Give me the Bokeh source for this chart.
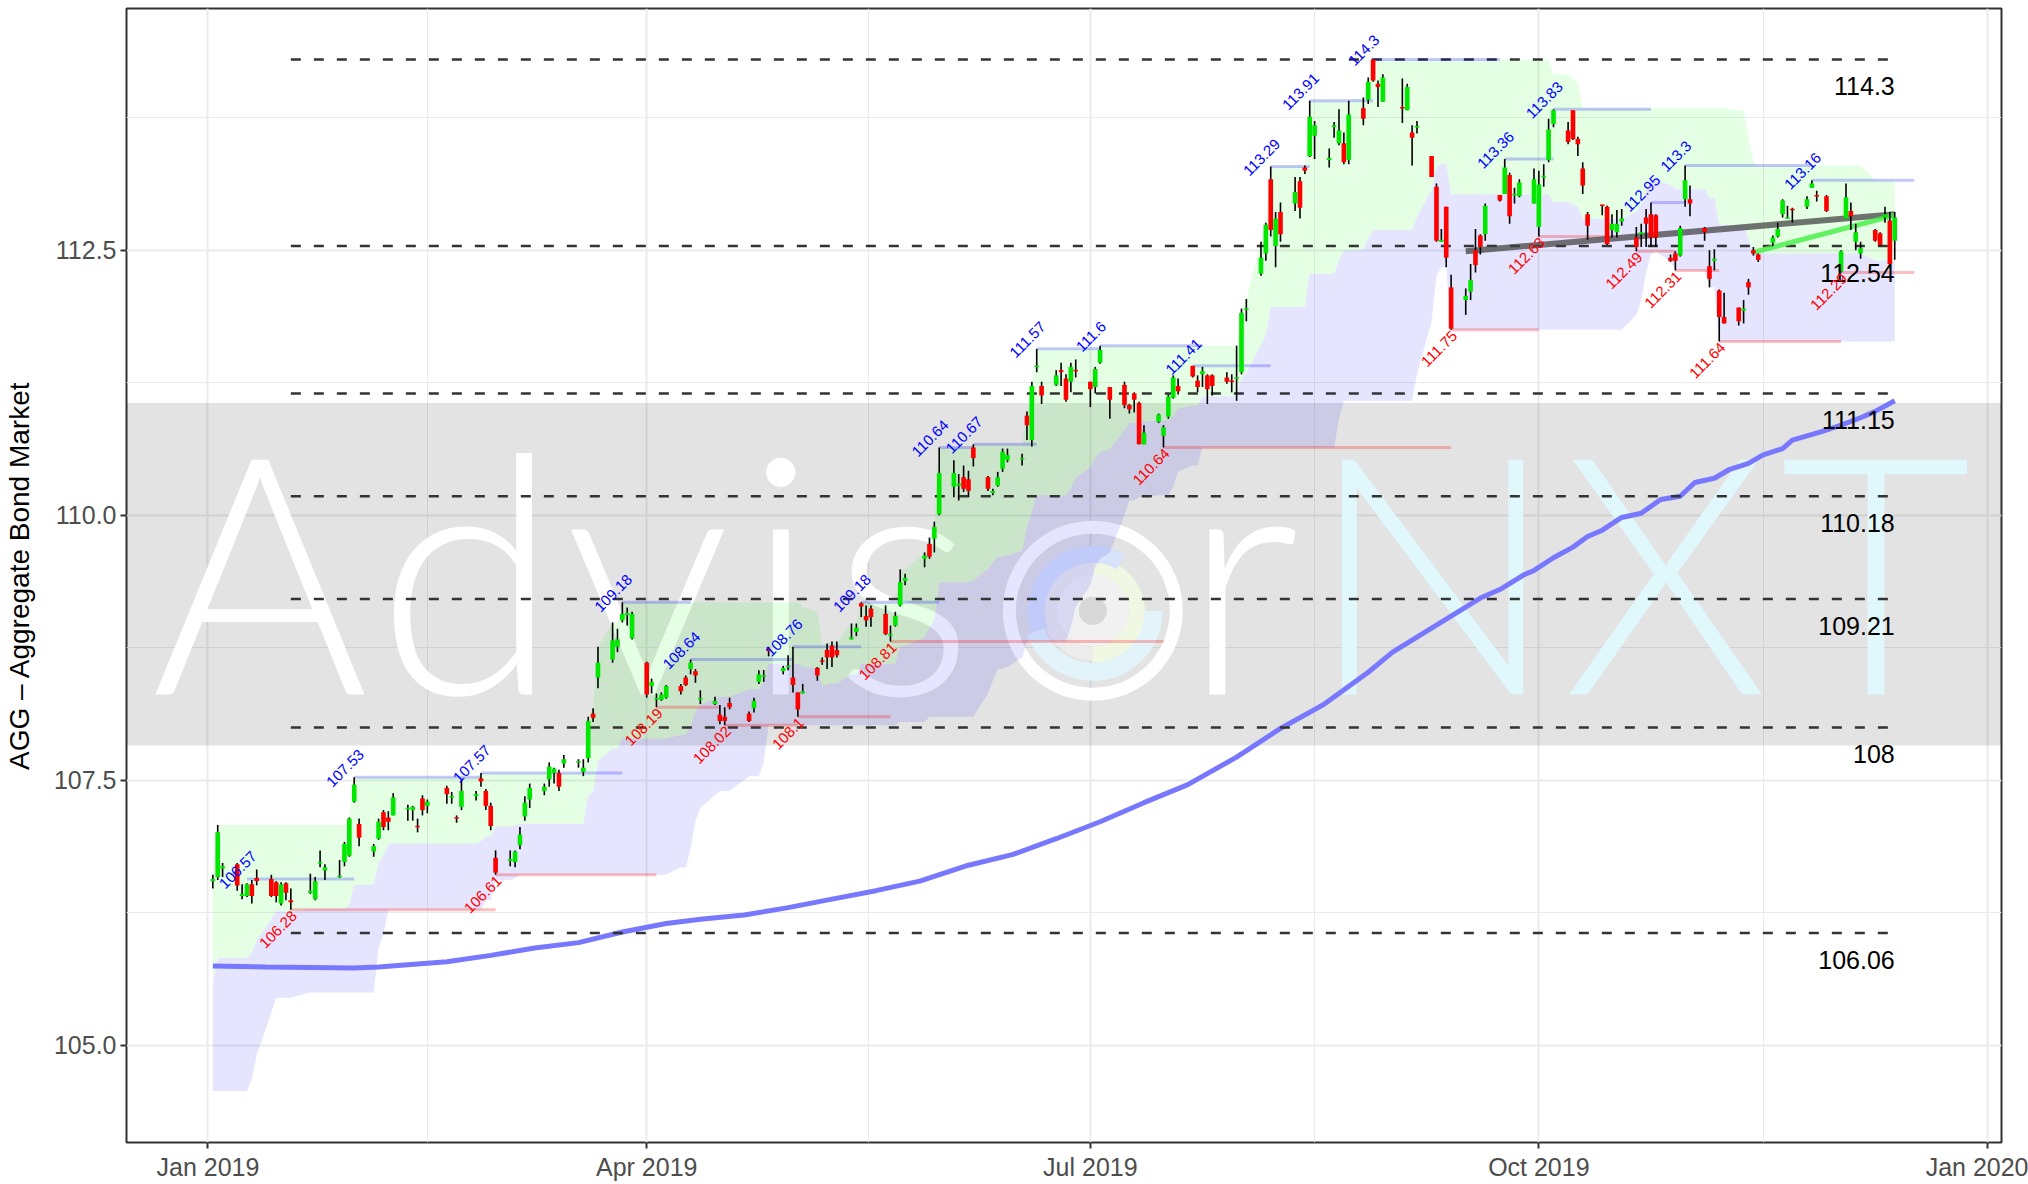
import pandas as pd
import numpy as np
from bokeh.plotting import figure
from bokeh.models import Range1d, FixedTicker, DatetimeTickFormatter, NumeralTickFormatter
from bokeh.core.properties import value
from bokeh.embed import file_html
from bokeh.resources import INLINE

# ---------------- data ----------------
holidays = ["2019-01-21", "2019-02-18", "2019-04-19", "2019-05-27",
            "2019-07-04", "2019-09-02", "2019-11-28"]

# (open, high, low, close) per trading day
ohlc_jan = [(106.55,106.61,106.48,106.57),(106.59,107.08,106.56,107.01),(106.67,106.72,106.59,106.69),
            (106.71,106.72,106.46,106.51),(106.41,106.52,106.38,106.43),(106.41,106.53,106.40,106.52),
            (106.52,106.56,106.34,106.41),(106.58,106.66,106.51,106.55),(106.57,106.61,106.40,106.41),
            (106.54,106.55,106.35,106.41),(106.34,106.54,106.32,106.52),(106.53,106.54,106.37,106.44),
            (106.37,106.48,106.28,106.35),(106.44,106.62,106.43,106.46),(106.38,106.59,106.37,106.55),
            (106.72,106.84,106.68,106.73),(106.65,106.71,106.56,106.68),(106.59,106.75,106.58,106.60),
            (106.73,106.92,106.69,106.90),(106.79,107.15,106.78,107.14),(107.30,107.53,107.29,107.46)]
ohlc_feb = [(107.09,107.14,106.88,106.96),(106.83,106.90,106.78,106.88),(106.95,107.14,106.94,107.11),
            (107.20,107.22,107.03,107.06),(107.15,107.21,107.03,107.11),(107.17,107.38,107.17,107.34),
            (107.23,107.27,107.12,107.24),(107.22,107.26,107.12,107.25),(107.07,107.14,107.01,107.06),
            (107.33,107.36,107.17,107.22),(107.26,107.32,107.19,107.30),(107.43,107.45,107.28,107.37),
            (107.34,107.39,107.28,107.35),(107.15,107.17,107.10,107.14),(107.25,107.51,107.22,107.40),
            (107.35,107.40,107.31,107.37),(107.52,107.57,107.44,107.49),(107.40,107.42,107.22,107.26),
            (107.26,107.29,107.03,107.07)]
ohlc_mar = [(106.77,106.84,106.61,106.63),(106.74,106.84,106.69,106.76),(106.73,106.84,106.68,106.83),
            (106.89,107.06,106.85,106.99),(107.16,107.35,107.12,107.29),(107.32,107.47,107.24,107.43),
            (107.40,107.47,107.36,107.44),(107.51,107.67,107.44,107.63),(107.57,107.62,107.47,107.61),
            (107.57,107.60,107.40,107.44),(107.66,107.74,107.62,107.70),(107.67,107.70,107.62,107.68),
            (107.58,107.70,107.54,107.62),(107.71,108.10,107.67,108.06),(108.13,108.18,108.05,108.09),
            (108.47,108.76,108.37,108.61),(108.64,108.99,108.61,108.82),(108.76,108.93,108.71,108.83),
            (109.01,109.18,108.99,109.07),(109.06,109.13,108.96,109.08),(108.84,109.09,108.83,109.07)]
ohlc_apr = [(108.61,108.62,108.28,108.31),(108.39,108.46,108.32,108.43),(108.27,108.32,108.19,108.27),
            (108.26,108.33,108.25,108.31),(108.28,108.40,108.27,108.39),(108.39,108.41,108.31,108.34),
            (108.47,108.49,108.39,108.40),(108.55,108.64,108.50,108.61),(108.53,108.55,108.42,108.49),
            (108.27,108.35,108.22,108.27),(108.22,108.29,108.21,108.25),(108.12,108.21,108.03,108.06),
            (108.10,108.19,108.02,108.06),(108.23,108.28,108.17,108.19),(108.13,108.15,108.05,108.06),
            (108.18,108.28,108.14,108.25),(108.43,108.54,108.41,108.50),(108.48,108.54,108.43,108.49),
            (108.74,108.76,108.67,108.72),(108.53,108.58,108.50,108.56),(108.57,108.68,108.54,108.58)]
ohlc_may = [(108.47,108.76,108.33,108.40),(108.33,108.33,108.10,108.17),(108.32,108.41,108.32,108.34),
            (108.56,108.57,108.44,108.49),(108.63,108.66,108.59,108.62),(108.73,108.79,108.55,108.66),
            (108.77,108.81,108.57,108.66),(108.73,108.81,108.66,108.68),(108.83,108.98,108.83,108.85),
            (108.90,108.98,108.86,108.94),(109.17,109.18,109.04,109.14),(109.05,109.15,108.95,109.01),
            (109.12,109.15,108.95,109.04),(109.07,109.15,108.87,108.88),(108.87,108.96,108.81,108.88),
            (108.96,109.09,108.95,109.05),(109.15,109.49,109.14,109.37),(109.38,109.45,109.34,109.41),
            (109.59,109.65,109.51,109.62),(109.73,109.79,109.59,109.61),(109.78,109.94,109.65,109.89),
            (110.01,110.64,110.00,110.40)]
ohlc_jun = [(110.27,110.52,110.17,110.40),(110.28,110.39,110.14,110.30),(110.36,110.47,110.22,110.25),
            (110.34,110.42,110.17,110.23),(110.64,110.67,110.46,110.54),(110.36,110.37,110.23,110.25),
            (110.21,110.25,110.19,110.23),(110.28,110.41,110.27,110.36),(110.44,110.63,110.41,110.60),
            (110.52,110.63,110.50,110.57),(110.53,110.58,110.47,110.54),(110.94,110.98,110.71,110.85),
            (110.71,111.26,110.65,111.22),(111.40,111.57,111.35,111.41),(111.22,111.26,111.05,111.13),
            (111.23,111.37,111.22,111.32),(111.37,111.44,111.22,111.35),(111.29,111.33,111.07,111.09),
            (111.26,111.44,111.16,111.40),(111.37,111.47,111.30,111.36)]
ohlc_jul = [(111.26,111.26,111.02,111.19),(111.21,111.40,111.15,111.38),(111.44,111.60,111.43,111.56),
            (111.21,111.21,110.91,111.09),(111.23,111.26,111.01,111.04),(111.04,111.05,110.96,111.00),
            (111.15,111.16,110.97,111.09),(111.06,111.07,110.67,110.67),(110.67,110.85,110.67,110.78),
            (110.88,110.96,110.87,110.95),(110.75,110.85,110.64,110.83),(110.93,111.14,110.91,111.12),
            (111.11,111.32,111.10,111.30),(111.22,111.29,111.14,111.17),(111.41,111.41,111.30,111.31),
            (111.27,111.32,111.16,111.21),(111.33,111.40,111.21,111.36),(111.32,111.33,111.05,111.19),
            (111.32,111.33,111.13,111.22),(111.30,111.35,111.24,111.26),(111.27,111.33,111.16,111.26),
            (111.29,111.60,111.08,111.30)]
ohlc_aug = [(111.35,111.95,111.33,111.91),(111.94,112.04,111.83,111.95),(112.28,112.58,112.26,112.43),
            (112.47,112.76,112.40,112.74),(113.17,113.29,112.63,112.69),(112.54,112.86,112.34,112.80),
            (112.86,112.95,112.58,112.65),(112.94,113.19,112.87,113.05),(113.15,113.19,112.80,112.90),
            (113.28,113.30,113.22,113.25),(113.39,113.91,113.38,113.76),(113.58,113.72,113.36,113.68),
            (113.35,113.46,113.28,113.37),(113.66,113.71,113.56,113.68),(113.51,113.83,113.49,113.63),
            (113.51,113.61,113.31,113.33),(113.35,113.91,113.31,113.78),(113.84,113.94,113.68,113.74),
            (113.92,114.13,113.88,114.09),(114.30,114.30,114.09,114.10),(114.07,114.10,113.85,114.04),
            (113.90,114.16,113.90,114.13)]
ohlc_sep = [(113.85,114.12,113.70,113.84),(113.82,114.07,113.82,114.04),(113.61,113.68,113.30,113.56),
            (113.66,113.72,113.60,113.67),(113.39,113.39,113.19,113.19),(113.10,113.13,112.58,112.59),
            (112.58,112.70,112.58,112.60),(112.91,112.91,112.34,112.43),(112.15,112.27,111.75,111.76),
            (112.03,112.14,111.89,112.07),(112.11,112.37,112.03,112.22),(112.50,112.70,112.29,112.36),
            (112.64,112.65,112.46,112.53),(112.65,112.94,112.59,112.92),(113.02,113.02,112.96,112.97),
            (113.03,113.36,113.03,113.28),(113.21,113.23,112.75,112.82),(113.02,113.09,112.94,113.03),
            (113.01,113.17,113.00,113.14),(112.94,113.27,112.94,113.17)]
ohlc_oct = [(112.72,113.25,112.63,113.12),(113.19,113.31,113.10,113.20),(113.35,113.74,113.33,113.64),
            (113.69,113.83,113.66,113.82),(113.63,113.71,113.50,113.52),(113.82,113.82,113.54,113.55),
            (113.55,113.57,113.39,113.50),(113.27,113.33,113.03,113.11),(112.84,112.86,112.60,112.73),
            (112.93,112.93,112.83,112.92),(112.91,112.92,112.55,112.56),(112.69,112.84,112.62,112.75),
            (112.67,112.88,112.62,112.75),(112.77,112.89,112.73,112.80),(112.62,112.72,112.49,112.53),
            (112.65,112.75,112.53,112.67),(112.81,112.89,112.53,112.75),(112.84,112.95,112.53,112.62),
            (112.83,112.84,112.53,112.62),(112.43,112.46,112.39,112.40),(112.47,112.49,112.31,112.40),
            (112.45,112.73,112.44,112.71),(112.98,113.30,112.91,113.16)]
ohlc_nov = [(112.98,113.11,112.82,112.94),(112.71,112.72,112.59,112.67),(112.35,112.50,112.15,112.23),
            (112.40,112.51,112.31,112.42),(112.12,112.13,111.64,111.87),(111.87,112.10,111.81,111.81),
            (111.96,111.96,111.79,111.83),(111.93,112.03,111.81,111.95),(112.20,112.23,112.08,112.15),
            (112.50,112.53,112.45,112.47),(112.46,112.47,112.39,112.41),(112.57,112.64,112.54,112.62),
            (112.63,112.76,112.62,112.70),(112.84,112.98,112.81,112.97),(112.80,112.92,112.80,112.81),
            (112.89,112.90,112.76,112.88),(112.91,113.01,112.89,112.98),(113.09,113.16,113.09,113.13),
            (113.02,113.06,112.96,113.01),(113.01,113.02,112.86,112.87)]
ohlc_dec = [(112.30,112.50,112.29,112.49),(112.80,113.13,112.80,113.00),(112.87,112.95,112.69,112.82),
            (112.58,112.75,112.50,112.67),(112.47,112.58,112.42,112.52),(112.69,112.70,112.58,112.59),
            (112.66,112.67,112.54,112.55),(112.81,112.91,112.76,112.84),(112.78,112.86,112.34,112.37),
            (112.59,112.86,112.41,112.81)]

# 26-day channel: breakpoints (date, value), value held until next breakpoint
upper_dates = ["2019-01-02","2019-01-03","2019-01-30","2019-01-31","2019-02-26","2019-03-20","2019-03-21",
               "2019-03-22","2019-03-25","2019-03-27","2019-05-03","2019-05-06","2019-05-07","2019-05-08",
               "2019-05-09","2019-05-13","2019-05-15","2019-05-23","2019-05-28","2019-05-29","2019-05-30",
               "2019-05-31","2019-06-07","2019-06-18","2019-06-19","2019-06-20","2019-07-03","2019-08-01",
               "2019-08-02","2019-08-05","2019-08-06","2019-08-07","2019-08-14","2019-08-15","2019-08-26",
               "2019-08-27","2019-08-28","2019-10-04","2019-10-08","2019-10-09","2019-10-10","2019-11-11",
               "2019-11-13","2019-11-14","2019-11-15","2019-12-09"]
upper_vals = [106.61,107.08,107.15,107.53,107.57,108.10,108.18,108.76,108.99,109.18,109.13,109.09,108.76,
              108.79,108.81,108.98,109.18,109.49,109.65,109.79,109.94,110.64,110.67,110.98,111.26,111.57,
              111.60,111.95,112.04,112.58,112.76,113.29,113.30,113.91,113.94,114.13,114.30,114.16,114.12,
              114.07,113.84,113.82,113.57,113.33,113.30,113.16]
lower_dates = ["2019-01-02","2019-01-10","2019-01-11","2019-01-14","2019-01-15","2019-01-22","2019-02-05",
               "2019-02-06","2019-02-07","2019-02-27","2019-03-01","2019-03-05","2019-03-06","2019-04-08",
               "2019-04-10","2019-04-11","2019-04-12","2019-04-15","2019-04-16","2019-04-22","2019-04-25",
               "2019-04-26","2019-05-23","2019-05-29","2019-06-10","2019-06-11","2019-06-12","2019-06-14",
               "2019-06-17","2019-06-18","2019-06-27","2019-06-28","2019-07-01","2019-07-02","2019-07-03",
               "2019-07-05","2019-07-08","2019-07-09","2019-07-11","2019-07-15","2019-07-18","2019-07-19",
               "2019-07-22","2019-07-24","2019-08-21","2019-08-22","2019-09-06","2019-09-09","2019-09-10",
               "2019-09-11","2019-09-13","2019-10-21","2019-10-22","2019-10-23","2019-10-24","2019-10-25",
               "2019-10-28","2019-10-29","2019-11-05","2019-11-07"]
lower_vals = [104.57,104.68,104.91,105.31,105.45,105.50,105.92,106.05,106.28,106.37,106.56,106.58,106.61,
              106.68,106.85,107.12,107.24,107.36,107.40,107.54,107.67,108.02,108.05,108.10,108.32,108.44,
              108.55,108.57,108.66,108.81,108.95,109.14,109.34,109.51,109.59,109.65,110.00,110.14,110.17,
              110.19,110.27,110.41,110.47,110.64,110.91,111.08,111.33,111.83,112.26,112.34,111.75,111.89,
              112.03,112.29,112.46,112.49,112.39,112.31,112.15,111.64]

# moving average (blue line)
ma_dates = ["2019-01-02","2019-01-13","2019-01-31","2019-02-05","2019-02-19","2019-02-28","2019-03-09",
            "2019-03-18","2019-03-27","2019-04-05","2019-04-12","2019-04-21","2019-04-30","2019-05-09",
            "2019-05-18","2019-05-27","2019-06-06","2019-06-15","2019-06-24","2019-07-03","2019-07-12",
            "2019-07-21","2019-07-31","2019-08-09","2019-08-18","2019-08-27","2019-09-01","2019-09-19",
            "2019-09-23","2019-09-28","2019-09-30","2019-10-04","2019-10-08","2019-10-11","2019-10-14",
            "2019-10-18","2019-10-22","2019-10-26","2019-10-30","2019-11-02","2019-11-06","2019-11-09",
            "2019-11-13","2019-11-16","2019-11-20","2019-11-22","2019-11-28","2019-12-02","2019-12-06",
            "2019-12-09","2019-12-13"]
ma_vals = [105.75,105.74,105.73,105.74,105.79,105.85,105.92,105.97,106.07,106.15,106.19,106.23,106.30,
           106.38,106.46,106.55,106.70,106.80,106.95,107.11,107.29,107.46,107.72,107.99,108.22,108.52,
           108.71,109.22,109.30,109.44,109.48,109.60,109.70,109.80,109.86,109.98,110.02,110.15,110.18,
           110.31,110.35,110.43,110.49,110.57,110.63,110.71,110.79,110.85,110.92,110.98,111.08]

levels = [114.3, 112.54, 111.15, 110.18, 109.21, 108.0, 106.06]
level_labels = ["114.3", "112.54", "111.15", "110.18", "109.21", "108", "106.06"]
level_start, level_end = "2019-01-18", "2019-12-13"

band_low, band_high = 107.83, 111.06

high_dates = ["2019-01-09","2019-01-31","2019-02-26","2019-03-27","2019-04-10","2019-05-01","2019-05-15",
              "2019-05-31","2019-06-07","2019-06-20","2019-07-03","2019-07-22","2019-08-07","2019-08-15",
              "2019-08-28","2019-09-24","2019-10-04","2019-10-24","2019-10-31","2019-11-26"]
high_vals = [106.57,107.53,107.57,109.18,108.64,108.76,109.18,110.64,110.67,111.57,111.6,111.41,113.29,
             113.91,114.3,113.36,113.83,112.95,113.3,113.16]
high_ends = ["2019-01-31","2019-02-26","2019-03-27","2019-04-10","2019-05-01","2019-05-15","2019-05-31",
             "2019-06-07","2019-06-20","2019-07-03","2019-07-24","2019-08-07","2019-08-15","2019-08-28",
             "2019-09-23","2019-10-04","2019-10-24","2019-10-31","2019-11-26","2019-12-17"]
low_dates = ["2019-01-18","2019-03-01","2019-04-03","2019-04-17","2019-05-02","2019-05-21","2019-07-16",
             "2019-09-13","2019-10-01","2019-10-21","2019-10-29","2019-11-07","2019-12-02"]
low_vals = [106.28,106.61,108.19,108.02,108.1,108.81,110.64,111.75,112.63,112.49,112.31,111.64,112.29]
low_ends = ["2019-03-01","2019-04-03","2019-04-16","2019-05-02","2019-05-21","2019-07-16","2019-09-13",
            "2019-10-01","2019-10-15","2019-10-29","2019-11-07","2019-12-02","2019-12-17"]

trend_dark = (["2019-09-16", "2019-12-13"], [112.49, 112.84])
trend_green = (["2019-11-14", "2019-12-13"], [112.48, 112.83])

# ---------------- build ----------------
DAY = 86400000.0
EPOCH = pd.Timestamp("1970-01-01")
def ms(t):
    return (pd.Timestamp(t) - EPOCH).total_seconds() * 1000.0
T0 = ms("2019-01-01")

ohlc = ohlc_jan + ohlc_feb + ohlc_mar + ohlc_apr + ohlc_may + ohlc_jun + ohlc_jul + ohlc_aug + ohlc_sep + ohlc_oct + ohlc_nov + ohlc_dec
bd = pd.bdate_range("2019-01-02", "2019-12-13")
bd = bd[~bd.isin(pd.to_datetime(holidays))]
n = min(len(bd), len(ohlc))
tdates = bd[:n]
o = np.array([r[0] for r in ohlc[:n]]); h = np.array([r[1] for r in ohlc[:n]])
l = np.array([r[2] for r in ohlc[:n]]); c = np.array([r[3] for r in ohlc[:n]])
top = np.maximum(o, c); bot = np.minimum(o, c)
small = (top - bot) < 0.014
mid_b = (top + bot) / 2
top = np.where(small, mid_b + 0.007, top); bot = np.where(small, mid_b - 0.007, bot)
up_mask = c >= o

up_s = pd.Series(upper_vals, index=pd.to_datetime(upper_dates)).reindex(tdates, method="ffill")
lo_s = pd.Series(lower_vals, index=pd.to_datetime(lower_dates)).reindex(tdates, method="ffill")
md_s = (up_s + lo_s) / 2

FONT = "Liberation Sans"
x0 = T0 - 16.71 * DAY
x1 = T0 + 367.9 * DAY

p = figure(width=2028, height=1184, x_axis_type="datetime", output_backend="svg", toolbar_location=None,
           x_range=Range1d(x0, x1), y_range=Range1d(104.085, 114.78),
           min_border_left=126, min_border_right=27, min_border_top=8, min_border_bottom=42)
p.background_fill_color = "white"
p.border_fill_color = "white"
p.outline_line_color = "#333333"
p.outline_line_width = 2

xt = FixedTicker(ticks=[ms("2019-01-01"), ms("2019-04-01"), ms("2019-07-01"), ms("2019-10-01"), ms("2020-01-01")],
                 minor_ticks=[ms("2019-02-15"), ms("2019-05-16 12:00"), ms("2019-08-16"), ms("2019-11-16")])
yt = FixedTicker(ticks=[105, 107.5, 110, 112.5], minor_ticks=[106.25, 108.75, 111.25, 113.75])
p.xaxis.ticker = xt; p.xgrid.ticker = xt
p.yaxis.ticker = yt; p.ygrid.ticker = yt
for g in (p.xgrid, p.ygrid):
    g.grid_line_color = "#ebebeb"; g.grid_line_width = 2
    g.minor_grid_line_color = "#ebebeb"; g.minor_grid_line_width = 1
p.xaxis.formatter = DatetimeTickFormatter(months="%b %Y", years="%b %Y", days="%b %Y", context=None)
p.yaxis.formatter = NumeralTickFormatter(format="0.0")
for ax in (p.xaxis, p.yaxis):
    ax.axis_line_color = None
    ax.major_tick_line_color = "#333333"; ax.major_tick_line_width = 2
    ax.major_tick_out = 6; ax.major_tick_in = 0
    ax.minor_tick_line_color = None
    ax.major_label_text_font = FONT
    ax.major_label_text_font_size = "25px"
    ax.major_label_text_color = "#4d4d4d"
    ax.major_label_standoff = 4
p.yaxis.axis_label = "AGG \u2013 Aggregate Bond Market"
p.yaxis.axis_label_text_font = FONT
p.yaxis.axis_label_text_font_size = "28px"
p.yaxis.axis_label_text_font_style = "normal"
p.yaxis.axis_label_text_color = "black"
p.yaxis.axis_label_standoff = 16

# grey band
p.quad(left=[x0], right=[x1], bottom=[band_low], top=[band_high], fill_color="black", fill_alpha=0.11, line_color=None)

# watermark
wm_letters = ["A", "d", "v", "i", "s", "r", "N", "X", "T"]
wm_day = [10.66, 53.3, 90.2, 117.5, 142.7, 211.9, 251.2, 299.0, 342.1]
wm_col = ["white"] * 6 + ["#e0f7fb"] * 3
p.text(x=[T0 + d * DAY for d in wm_day], y=[108.295] * 9, text=wm_letters, text_color=wm_col,
       text_font=value("Lato Light, Roboto Light, DejaVu Sans ExtraLight, Liberation Sans"),
       text_font_size="332px", text_align="center", text_baseline="alphabetic", y_offset=-130)
lx, ly = T0 + 181.5 * DAY, 109.10
p.annulus(x=[lx], y=[ly], inner_radius=77, outer_radius=90, inner_radius_units="screen",
          outer_radius_units="screen", fill_color="white", line_color=None)
for ri, ro, a0, a1, col in [(14, 36, 0, 360, "#f1f1f1"), (0, 14, 0, 360, "#d8d8d8"),
                            (36, 50, 90, 270, "#ececec"), (36, 52, -90, 90, "#f0f8e4"),
                            (48, 65, 60, 200, "#d6e3fa"), (52, 70, 200, 360, "#e2f4f9")]:
    p.annular_wedge(x=[lx], y=[ly], inner_radius=ri, outer_radius=ro, inner_radius_units="screen",
                    outer_radius_units="screen", start_angle=np.deg2rad(a0), end_angle=np.deg2rad(a1),
                    fill_color=col, line_color=None)

# channel clouds
p.varea(x=tdates, y1=md_s.values, y2=up_s.values, fill_color="#00ff00", fill_alpha=0.1)
p.varea(x=tdates, y1=lo_s.values, y2=md_s.values, fill_color="#0000ff", fill_alpha=0.1)

# moving average
p.line(x=pd.to_datetime(ma_dates), y=ma_vals, line_color="#7878ff", line_width=5)

# levels
p.segment(x0=[ms(level_start)] * len(levels), x1=[ms(level_end)] * len(levels), y0=levels, y1=levels,
          line_color="#333333", line_width=2.5, line_dash="10 13")

# high / low lines
p.segment(x0=pd.to_datetime(high_dates), x1=pd.to_datetime(high_ends), y0=high_vals, y1=high_vals,
          line_color="blue", line_alpha=0.22, line_width=3)
p.segment(x0=pd.to_datetime(low_dates), x1=pd.to_datetime(low_ends), y0=low_vals, y1=low_vals,
          line_color="red", line_alpha=0.25, line_width=3)

# trend lines
p.line(x=pd.to_datetime(trend_dark[0]), y=trend_dark[1], line_color="#444444", line_alpha=0.75, line_width=6)
p.line(x=pd.to_datetime(trend_green[0]), y=trend_green[1], line_color="#44ee44", line_alpha=0.8, line_width=5)

# candles
p.segment(x0=tdates, x1=tdates, y0=l, y1=h, line_color="black", line_width=1.6)
cols = np.where(up_mask, "#00e800", "#ff0000")
p.vbar(x=tdates, width=0.95 * DAY, top=top, bottom=bot, fill_color=list(cols), line_color=None)

# labels
p.text(x=[ms(level_end)] * len(levels), y=levels, text=level_labels, text_font=value(FONT),
       text_font_size="25px", text_color="black", text_align="right", text_baseline="middle", y_offset=27)
p.text(x=pd.to_datetime(high_dates), y=high_vals, text=[f"{v:g}" for v in high_vals], text_font=value(FONT),
       text_font_size="15px", text_color="blue", text_align="center", text_baseline="bottom",
       angle=np.pi / 4, x_offset=-5.5, y_offset=-5.5)
p.text(x=pd.to_datetime(low_dates), y=low_vals, text=[f"{v:g}" for v in low_vals], text_font=value(FONT),
       text_font_size="15px", text_color="red", text_align="right", text_baseline="top",
       angle=np.pi / 4, x_offset=0, y_offset=0)

open("out.html", "w").write(file_html(p, INLINE))
